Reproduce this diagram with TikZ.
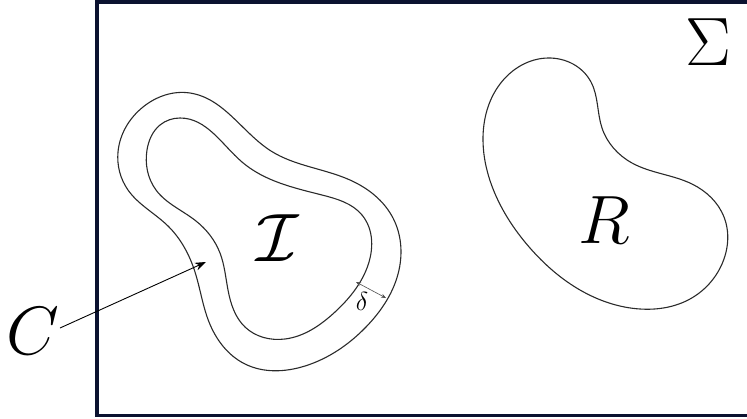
\documentclass[tikz,border=0pt]{standalone}
\usetikzlibrary{arrows.meta,hobby}
\definecolor{frame}{HTML}{0B1230}
\definecolor{curve}{HTML}{2A2A2A}
\newcommand{\bigsym}[1]{\scalebox{2.75}{\Huge $#1$}}
\tikzset{
  blob/.style={draw=curve, line width=1.1pt, use Hobby shortcut, closed=true},
  bigtxt/.style={inner sep=0pt},
  pointer/.style={draw=black, line width=0.9pt, -{Stealth[length=11pt,width=8pt]}},
  gap/.style={draw=black!70, line width=0.6pt, {Stealth[length=5pt,width=4pt]}-{Stealth[length=5pt,width=4pt]}}
}
\begin{document}
\begin{tikzpicture}[x=1pt,y=-1pt]
\useasboundingbox (0,0) rectangle (747,418);
\draw[frame, line width=3.2pt] (97,2) rectangle (770,415.5);
% outer curve
\draw[blob] (190,93) .. (271,151) .. (350,180) .. (393,218) .. (399,270)
 .. (366,327) .. (305,366) .. (245,364) .. (209,322) .. (195,272)
 .. (168,226) .. (128,190) .. (118,152) .. (143,107);
% inner curve
\draw[blob] (180,118) .. (242,162) .. (322,195) .. (362,215) .. (367,268)
 .. (335,312) .. (285,339) .. (245,327) .. (228,290) .. (220,253)
 .. (196,221) .. (156,190) .. (147,150) .. (160,125);
% R blob
\draw[blob] (548,58) .. (591,82) .. (602,128) .. (632,163) .. (692,184)
 .. (724,217) .. (722,264) .. (690,299) .. (640,309) .. (580,290)
 .. (530,248) .. (496,196) .. (483,140) .. (500,84);
\node[bigtxt] (sigma) at (708,42) {\bigsym{\Sigma}};
\node[bigtxt] (rlab) at (604,220) {\bigsym{R}};
\node[bigtxt] (ilab) at (278,238) {\bigsym{\mathcal{I}}};
\node[bigtxt] (clab) at (33,331) {\bigsym{C}};
\node[inner sep=0pt] (dlab) at (362,301) {\scalebox{1.05}{\Huge $\delta$}};
\coordinate (ctip) at (206,262);
\coordinate (cstart) at (60,328);
\draw[pointer] (cstart) -- (ctip);
\coordinate (din) at (356,282);
\coordinate (dout) at (386,298);
\draw[gap] (din) -- (dout);
\end{tikzpicture}
\end{document}
